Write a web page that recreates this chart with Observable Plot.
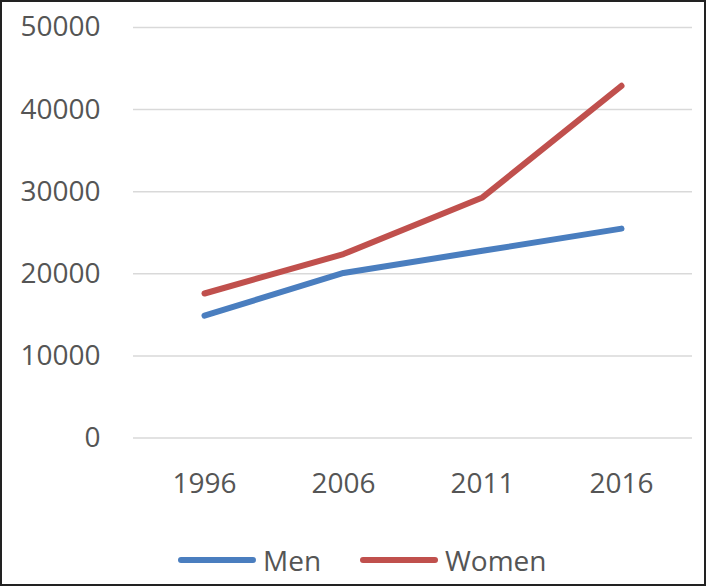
<!DOCTYPE html>
<html>
<head>
<meta charset="utf-8">
<script src="https://cdn.jsdelivr.net/npm/d3@7"></script>
<script src="https://cdn.jsdelivr.net/npm/@observablehq/plot@0.6"></script>
<style>
  html, body { margin: 0; padding: 0; background: #fff; }
  #frame { position: relative; width: 706px; height: 586px; box-sizing: border-box; border: 2px solid #222; background: #fff; overflow: hidden; font-family: "Open Sans", sans-serif; }
  #legend { position: absolute; left: 0; top: 538px; width: 100%; height: 40px; }
  .item { position: absolute; top: 0; display: flex; align-items: center; height: 40px; font-size: 28px; color: #555; }
  .swatch { width: 78px; height: 6px; border-radius: 3px; margin-right: 7px; }
</style>
</head>
<body>
<div id="frame">
  <div id="chart"></div>
  <div id="legend"></div>
</div>
<script>
const years = ["1996", "2006", "2011", "2016"];
const men = [14900, 20100, 22800, 25500];
const women = [17600, 22400, 29300, 42900];
const seriesNames = ["Men", "Women"];
const seriesColors = ["#4a7ebf", "#c0504d"];
const yTicks = [0, 10000, 20000, 30000, 40000, 50000];

const data = [];
years.forEach((y, i) => {
  data.push({year: y, value: men[i], series: "Men"});
  data.push({year: y, value: women[i], series: "Women"});
});

const plot = Plot.plot({
  width: 702,
  height: 520,
  marginTop: 25,
  marginBottom: 84.5,
  marginLeft: 131,
  marginRight: 12,
  style: {fontFamily: "Open Sans, sans-serif", fontSize: "28px", color: "#555", background: "#fff"},
  x: {type: "point", domain: years, padding: 0.5, label: null},
  y: {domain: [0, 50000], label: null},
  color: {domain: seriesNames, range: seriesColors},
  marks: [
    Plot.ruleY(yTicks, {stroke: "#d9d9d9", strokeWidth: 1.5}),
    Plot.axisY({ticks: yTicks, tickSize: 0, tickPadding: 33, tickFormat: d => String(d), fill: "#555", fontSize: 28, label: null}),
    Plot.axisX({tickSize: 0, tickPadding: 35, fill: "#555", fontSize: 28, label: null}),
    Plot.line(data, {x: "year", y: "value", z: "series", stroke: "series", strokeWidth: 6, strokeLinecap: "round", strokeLinejoin: "round"})
  ]
});
document.getElementById("chart").appendChild(plot);

const legend = document.getElementById("legend");
const lefts = [176, 358];
seriesNames.forEach((name, i) => {
  const item = document.createElement("div");
  item.className = "item";
  item.style.left = lefts[i] + "px";
  const sw = document.createElement("div");
  sw.className = "swatch";
  sw.style.background = seriesColors[i];
  const label = document.createElement("span");
  label.textContent = name;
  item.appendChild(sw);
  item.appendChild(label);
  legend.appendChild(item);
});
</script>
</body>
</html>
